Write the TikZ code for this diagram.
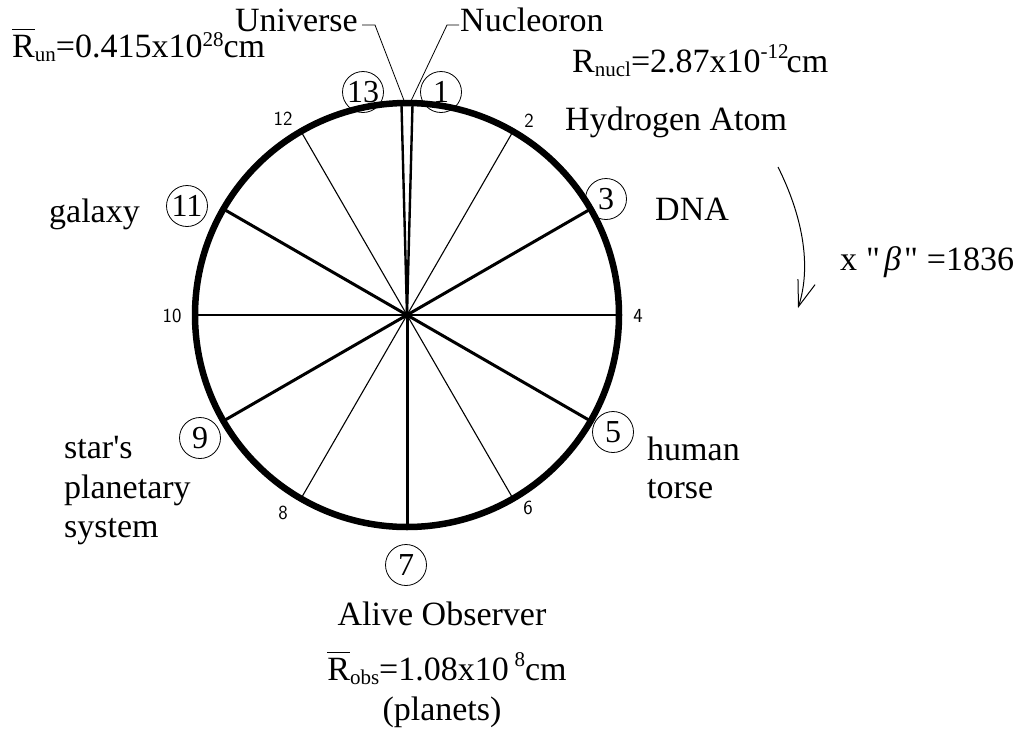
\documentclass[tikz,border=0pt]{standalone}
\usepackage{fontspec}
\setmainfont{Liberation Serif}[Ligatures=TeXOff]
\usetikzlibrary{arrows.meta}
\newcommand\mylo[1]{\raisebox{-0.12em}{\fontsize{21}{21}\selectfont #1}}
\newcommand\myhi[1]{\raisebox{0.4em}{\fontsize{21}{21}\selectfont #1}}
\newcommand\myhilow[1]{\raisebox{0.32em}{\fontsize{21}{21}\selectfont #1}}
\newcommand\myRbar{\leavevmode\rlap{\rule[0.8em]{0.667em}{1.2pt}}R}
\begin{document}
\begin{tikzpicture}[x=1pt,y=-1pt,
  lbl/.style={font=\fontsize{34}{40}\selectfont, inner sep=0pt},
  num/.style={circle, draw, line width=0.8pt, minimum size=41pt, inner sep=0pt, font=\fontsize{32}{32}\selectfont},
  tick/.style={font=\sffamily\fontsize{20}{20}\selectfont, inner sep=0pt},
  rim/.style={line width=6.5pt},
  thickspoke/.style={line width=3pt},
  thinspoke/.style={line width=1.1pt},
  toppair/.style={line width=2.4pt},
  leader/.style={line width=0.8pt}]
\useasboundingbox (0,0) rectangle (1028,742);
\coordinate (O) at (407,315);
% spokes
\foreach \a/\n in {60/2,0/4,-60/6,-120/8,180/10,120/12}
  \path (O) ++(\a:212pt) coordinate (p\n);
\foreach \a/\n in {30/3,-30/5,-90/7,-150/9,150/11}
  \path (O) ++(\a:212pt) coordinate (p\n);
\path (O) ++(88.5:212pt) coordinate (p1);
\path (O) ++(91.5:212pt) coordinate (p13);
\foreach \n in {2,4,6,8,10,12} \draw[thinspoke] (O) -- (p\n);
\foreach \n in {3,5,7,9,11} \draw[thickspoke] (O) -- (p\n);
\draw[toppair] (O) -- (p1);
\draw[toppair] (O) -- (p13);
\draw[rim] (O) circle[radius=212pt];
% small numbers
\node[tick] (t2) at (529,121) {2};
\node[tick] (t4) at (638,316) {4};
\node[tick] (t6) at (528,508) {6};
\node[tick] (t8) at (283,513) {8};
\node[tick] (t10) at (172,316) {10};
\node[tick] (t12) at (283,119) {12};
% circled numbers
\node[num] (c13) at (363,92) {13};
\node[num] (c1) at (441,92) {1};
\node[num] (c3) at (606,199) {3};
\node[num] (c5) at (613,432) {5};
\node[num] (c7) at (406,565) {7};
\node[num] (c9) at (200,438) {9};
\node[num] (c11) at (187,206) {11};
% leaders
\coordinate (u0) at (362,25);
\coordinate (u1) at (375,25);
\coordinate (u2) at (405,103);
\coordinate (n0) at (459,25);
\coordinate (n1) at (447,25);
\coordinate (n2) at (410,103);
\draw[leader] (u0) -- (u1) -- (u2);
\draw[leader] (n0) -- (n1) -- (n2);
% labels
\node[lbl, anchor=base east] (universe) at (358,31) {Universe};
\node[lbl, anchor=base west] (nucleoron) at (460,31) {Nucleoron};
\node[lbl, anchor=base west] (run) at (12,57) {\myRbar\mylo{un}=0.415x10\myhilow{28}cm};
\node[lbl, anchor=base west] (rnucl) at (572,72) {R\mylo{nucl}=2.87x10\myhi{-12}\kern-2pt cm};
\node[lbl, anchor=base west] (hydrogen) at (565,130) {Hydrogen Atom};
\node[lbl, anchor=base west] (dna) at (655,220) {DNA};
\node[lbl, anchor=base east] (galaxy) at (140,222) {galaxy};
\node[lbl, anchor=base west] (beta) at (840,270) {x\hspace{9pt}"\hspace{4pt}{\itshape β}\hspace{3pt}"\hspace{9pt}=1836};
\node[lbl, anchor=base west] (human) at (647,460) {human};
\node[lbl, anchor=base west] (torse) at (647,498) {torse};
\node[lbl, anchor=base west] (stars) at (64,458) {star's};
\node[lbl, anchor=base west] (planetary) at (64,498) {planetary};
\node[lbl, anchor=base west] (system) at (64,537) {system};
\node[lbl, anchor=base] (alive) at (442,625) {Alive Observer};
\node[lbl, anchor=base] (robs) at (447,680) {\myRbar\mylo{obs}=1.08x10\,\myhi{8}cm};
\node[lbl, anchor=base] (planets) at (442,720) {(planets)};
% rotation arrow
\coordinate (a1) at (778,167);
\coordinate (a2) at (798,308);
\draw[line width=1pt, -{Straight Barb[length=26pt,width=18pt,line width=1pt]}] (a1) .. controls (802,215) and (812,265) .. (a2);
\end{tikzpicture}
\end{document}
